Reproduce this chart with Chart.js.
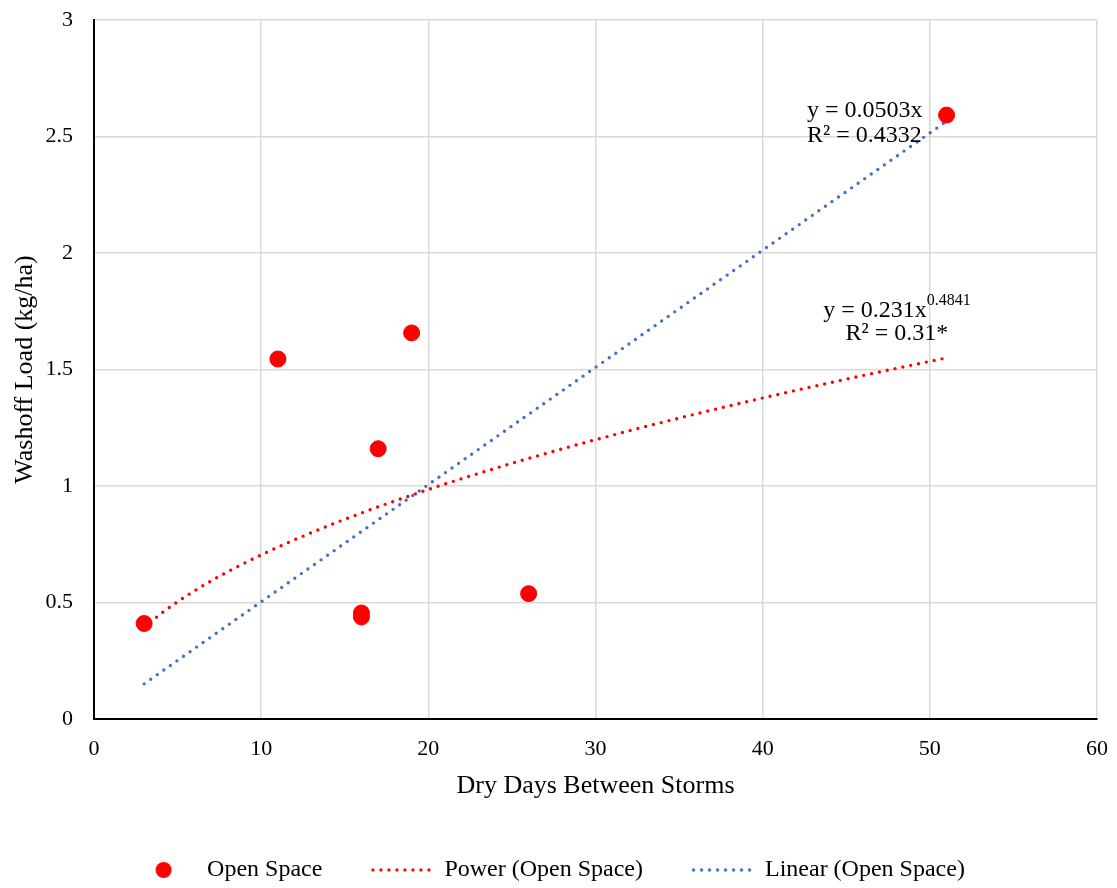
<!DOCTYPE html>
<html>
<head>
<meta charset="utf-8">
<title>Washoff Load vs Dry Days Between Storms</title>
<script src="https://cdn.jsdelivr.net/npm/chart.js@4.4.0/dist/chart.umd.min.js"></script>
<style>
  html, body { margin: 0; padding: 0; background: #fff; }
  #wrap { width: 1117px; height: 888px; position: relative; }
</style>
</head>
<body>
<div id="wrap"><canvas id="washoffChart"></canvas></div>
<script>
// storm events: dry days before each storm and the washoff load (kg/ha)
const dryDays = [3, 11, 16, 16, 17, 19, 26, 51];
const washoffLoad = [0.41, 1.545, 0.455, 0.438, 1.16, 1.657, 0.538, 2.592];

// fitted trendlines
const linearSlope = 0.0503;
const linearR2 = '0.4332';
const powerCoef = 0.231;
const powerExp = 0.4841;
const powerR2 = '0.31*';

const xTicks = [0, 10, 20, 30, 40, 50, 60];
const yTicks = [0, 0.5, 1, 1.5, 2, 2.5, 3];

const SERIF = "'Liberation Serif', 'Times New Roman', serif";
const RED = '#ff0000';
const BLUE = '#4472c4';

const points = dryDays.map((d, i) => ({ x: d, y: washoffLoad[i] }));

// trendlines run over the range of the observations
const trendStart = Math.min(...dryDays);
const trendEnd = Math.max(...dryDays);
const linearTrend = [trendStart, trendEnd].map(x => ({ x, y: linearSlope * x }));
const powerTrend = [];
for (let x = trendStart; x <= trendEnd; x += 0.5) {
  powerTrend.push({ x, y: powerCoef * Math.pow(x, powerExp) });
}

// small canvases used as legend symbols
function markerIcon() {
  const c = document.createElement('canvas');
  c.width = 63; c.height = 20;
  const g = c.getContext('2d');
  g.fillStyle = RED;
  g.beginPath();
  g.arc(31.5, 10, 8, 0, Math.PI * 2);
  g.fill();
  return c;
}
function dottedIcon(color) {
  const c = document.createElement('canvas');
  c.width = 63; c.height = 20;
  const g = c.getContext('2d');
  g.fillStyle = color;
  for (let i = 0; i < 8; i++) {
    g.beginPath();
    g.arc(3.5 + i * 8, 10, 1.7, 0, Math.PI * 2);
    g.fill();
  }
  return c;
}
const legendIcons = [markerIcon(), dottedIcon(RED), dottedIcon(BLUE)];

// equation and R² text next to each trendline
const trendLabels = {
  id: 'trendLabels',
  afterDatasetsDraw(chart) {
    const { ctx, scales: { x, y } } = chart;
    ctx.save();
    ctx.fillStyle = '#000';
    ctx.textBaseline = 'alphabetic';
    ctx.font = '24px ' + SERIF;

    // linear
    ctx.textAlign = 'left';
    let px = x.getPixelForValue(42.65);
    let py = y.getPixelForValue(2.583);
    ctx.fillText('y = ' + linearSlope + 'x', px, py);
    ctx.fillText('R\u00b2 = ' + linearR2, px, py + 25);

    // power, exponent as superscript
    const main = 'y = ' + powerCoef + 'x';
    const sup = String(powerExp);
    const mainW = ctx.measureText(main).width;
    ctx.font = '16px ' + SERIF;
    const supW = ctx.measureText(sup).width;
    px = x.getPixelForValue(48.03);
    py = y.getPixelForValue(1.725);
    const left = px - (mainW + supW) / 2;
    ctx.fillText(sup, left + mainW, py - 12);
    ctx.font = '24px ' + SERIF;
    ctx.fillText(main, left, py);
    ctx.textAlign = 'center';
    ctx.fillText('R\u00b2 = ' + powerR2, px, py + 23);
    ctx.restore();
  }
};

const tickFont = { family: SERIF, size: 22 };
const titleFont = { family: SERIF, size: 26 };

new Chart(document.getElementById('washoffChart'), {
  type: 'scatter',
  data: {
    datasets: [
      {
        label: 'Open Space',
        data: points,
        backgroundColor: RED,
        borderColor: RED,
        pointRadius: 8,
        pointHoverRadius: 8
      },
      {
        label: 'Power (Open Space)',
        data: powerTrend,
        showLine: true,
        borderColor: RED,
        borderWidth: 3.4,
        borderDash: [0, 8],
        borderCapStyle: 'round',
        pointRadius: 0,
        pointHoverRadius: 0,
        tension: 0
      },
      {
        label: 'Linear (Open Space)',
        data: linearTrend,
        showLine: true,
        borderColor: BLUE,
        borderWidth: 3.4,
        borderDash: [0, 8],
        borderCapStyle: 'round',
        pointRadius: 0,
        pointHoverRadius: 0
      }
    ]
  },
  options: {
    responsive: true,
    maintainAspectRatio: false,
    animation: false,
    layout: { padding: { top: 20, right: 20, left: 0, bottom: 0 } },
    plugins: {
      tooltip: { enabled: false },
      legend: {
        position: 'bottom',
        maxHeight: 77,
        labels: {
          usePointStyle: true,
          pointStyleWidth: 63,
          padding: 47,
          color: '#000',
          font: { family: SERIF, size: 24 },
          generateLabels: chart => chart.data.datasets.map((ds, i) => ({
            text: ds.label,
            pointStyle: legendIcons[i],
            fillStyle: 'transparent',
            strokeStyle: 'transparent',
            lineWidth: 0,
            hidden: !chart.isDatasetVisible(i),
            datasetIndex: i
          }))
        }
      }
    },
    scales: {
      x: {
        type: 'linear',
        min: 0,
        max: 60,
        afterBuildTicks: axis => { axis.ticks = xTicks.map(v => ({ value: v })); },
        afterFit: axis => {
          axis.height = 92;
          // end labels may overhang; the outer layout padding handles that
          axis.paddingLeft = 0;
          axis.paddingRight = 0;
        },
        grid: { color: '#d9d9d9', lineWidth: 1.5, drawTicks: false },
        border: { color: '#000', width: 2 },
        ticks: { padding: 17, color: '#000', font: tickFont, callback: v => String(v) },
        title: {
          display: true,
          text: 'Dry Days Between Storms',
          color: '#000',
          font: titleFont,
          padding: { top: 0, bottom: 9 }
        }
      },
      y: {
        type: 'linear',
        min: 0,
        max: 3,
        afterBuildTicks: axis => { axis.ticks = yTicks.map(v => ({ value: v })); },
        afterFit: axis => {
          axis.width = 94;
          axis.paddingTop = 0;
          axis.paddingBottom = 0;
        },
        grid: { color: '#d9d9d9', lineWidth: 1.5, drawTicks: false },
        border: { color: '#000', width: 2 },
        ticks: { padding: 21, color: '#000', font: tickFont, callback: v => String(v) },
        title: {
          display: true,
          text: 'Washoff Load (kg/ha)',
          color: '#000',
          font: titleFont,
          padding: { top: 10, bottom: 0 }
        }
      }
    }
  },
  plugins: [trendLabels]
});
</script>
</body>
</html>
